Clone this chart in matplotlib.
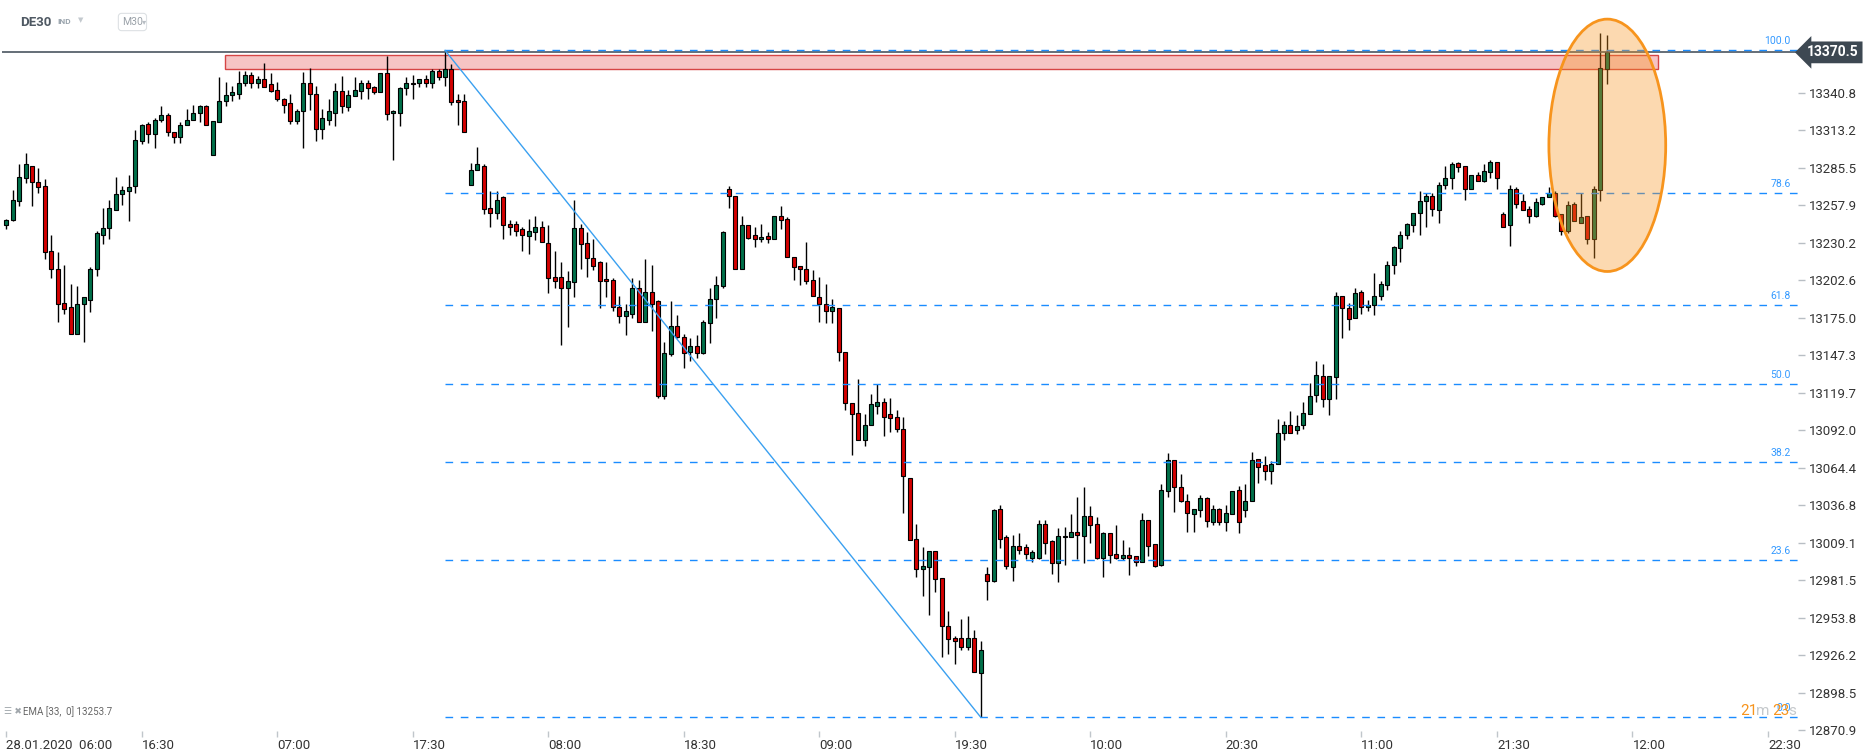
import matplotlib
matplotlib.use("Agg")
import matplotlib.pyplot as plt
from matplotlib.patches import Ellipse, Rectangle
import matplotlib.transforms as mtransforms
import numpy as np

plt.rcParams['font.family'] = ['Roboto', 'DejaVu Sans']

# DE30, M30 candles
opens = [
    13243, 13247, 13261, 13278, 13287, 13275, 13272, 13224, 13211, 13186,
    13183, 13163, 13185, 13188, 13211, 13236, 13241, 13254, 13266, 13268,
    13272, 13305, 13318, 13310, 13321, 13324, 13312, 13308, 13317, 13321,
    13326, 13331, 13295, 13319, 13335, 13339, 13340, 13348, 13354, 13348,
    13351, 13347, 13343, 13336, 13333, 13320, 13327, 13348, 13340, 13314,
    13321, 13326, 13342, 13330, 13338, 13342, 13348, 13345, 13341, 13355,
    13326, 13326, 13344, 13348, 13348, 13351, 13348, 13357, 13352, 13358,
    13335, 13335, 13273, 13284, 13287, 13256, 13252, 13264, 13244, 13244,
    13240, 13235, 13238, 13242, 13230, 13205, 13205, 13197, 13201, 13241,
    13230, 13219, 13216, 13203, 13203, 13183, 13176, 13178, 13197, 13172,
    13194, 13187, 13117, 13148, 13169, 13161, 13150, 13154, 13149, 13171,
    13189, 13198, 13270, 13265, 13211, 13243, 13236, 13233, 13235, 13233,
    13250, 13248, 13220, 13213, 13211, 13203, 13190, 13185, 13180, 13182,
    13150, 13112, 13105, 13085, 13096, 13110, 13113, 13104, 13102, 13093,
    13057, 13012, 12990, 12991, 13003, 12983, 12948, 12939, 12939, 12932,
    12939, 12913, 12986, 12981, 13034, 13013, 12991, 13007, 13006, 12998,
    12998, 13023, 13010, 12994, 13014, 13013, 13017, 13014, 13029, 13023,
    12998, 13016, 13001, 12998, 13000, 12999, 12995, 13026, 13008, 12993,
    13047, 13070, 13050, 13040, 13030, 13033, 13042, 13024, 13034, 13024,
    13030, 13048, 13033, 13040, 13071, 13066, 13062, 13067, 13090, 13096,
    13092, 13096, 13104, 13118, 13132, 13115, 13131, 13191, 13182, 13175,
    13194, 13183, 13184, 13191, 13199, 13214, 13226, 13236, 13243, 13252,
    13261, 13265, 13254, 13273, 13278, 13289, 13287, 13270, 13280, 13276,
    13282, 13290, 13251, 13243, 13270, 13261, 13255, 13250, 13259, 13264,
    13267, 13251, 13239, 13259, 13245, 13250, 13233, 13269, 13358,
]
highs = [
    13248, 13269, 13288, 13296, 13287, 13285, 13277, 13236, 13223, 13214,
    13200, 13198, 13190, 13212, 13239, 13256, 13262, 13279, 13272, 13280,
    13313, 13318, 13319, 13322, 13331, 13326, 13312, 13319, 13329, 13332,
    13332, 13332, 13320, 13352, 13349, 13346, 13357, 13357, 13356, 13353,
    13363, 13355, 13349, 13337, 13340, 13329, 13356, 13359, 13346, 13329,
    13336, 13348, 13353, 13343, 13352, 13350, 13350, 13346, 13355, 13368,
    13328, 13345, 13352, 13354, 13351, 13354, 13358, 13358, 13372, 13362,
    13340, 13340, 13289, 13301, 13288, 13268, 13268, 13265, 13247, 13246,
    13242, 13248, 13250, 13246, 13243, 13224, 13216, 13209, 13262, 13244,
    13238, 13233, 13217, 13216, 13204, 13191, 13185, 13204, 13203, 13218,
    13214, 13188, 13157, 13187, 13177, 13163, 13160, 13162, 13173, 13197,
    13206, 13239, 13272, 13265, 13250, 13243, 13242, 13244, 13238, 13250,
    13257, 13249, 13220, 13213, 13231, 13210, 13205, 13200, 13189, 13182,
    13150, 13112, 13130, 13104, 13119, 13126, 13116, 13116, 13107, 13102,
    13057, 13023, 13006, 13003, 13003, 12983, 12959, 12940, 12953, 12955,
    12945, 12937, 12991, 13034, 13037, 13015, 13015, 13016, 13008, 13004,
    13026, 13026, 13011, 13020, 13021, 13030, 13043, 13050, 13036, 13028,
    13017, 13016, 13022, 13011, 13006, 12999, 13031, 13026, 13008, 13052,
    13075, 13070, 13060, 13045, 13034, 13044, 13043, 13037, 13035, 13037,
    13047, 13051, 13052, 13076, 13071, 13073, 13069, 13100, 13099, 13106,
    13103, 13113, 13127, 13143, 13141, 13132, 13194, 13191, 13186, 13197,
    13195, 13188, 13208, 13202, 13217, 13228, 13239, 13245, 13252, 13268,
    13267, 13267, 13275, 13287, 13290, 13290, 13287, 13280, 13282, 13288,
    13291, 13290, 13253, 13273, 13271, 13266, 13257, 13263, 13264, 13271,
    13268, 13251, 13261, 13260, 13267, 13250, 13272, 13385, 13383,
]
lows = [
    13240, 13246, 13257, 13274, 13257, 13267, 13218, 13204, 13172, 13178,
    13163, 13163, 13157, 13179, 13206, 13229, 13233, 13254, 13258, 13246,
    13267, 13303, 13304, 13300, 13319, 13309, 13304, 13304, 13317, 13321,
    13319, 13317, 13295, 13319, 13331, 13335, 13336, 13346, 13344, 13344,
    13345, 13341, 13335, 13326, 13318, 13318, 13300, 13328, 13305, 13307,
    13317, 13316, 13326, 13327, 13338, 13336, 13336, 13340, 13341, 13321,
    13291, 13316, 13339, 13336, 13345, 13345, 13344, 13350, 13346, 13332,
    13317, 13312, 13273, 13284, 13251, 13242, 13248, 13233, 13236, 13235,
    13224, 13222, 13232, 13231, 13193, 13197, 13155, 13168, 13190, 13211,
    13205, 13210, 13182, 13190, 13180, 13171, 13162, 13175, 13172, 13172,
    13165, 13116, 13115, 13147, 13160, 13138, 13143, 13145, 13148, 13156,
    13175, 13197, 13256, 13211, 13211, 13233, 13227, 13231, 13230, 13233,
    13240, 13220, 13203, 13199, 13200, 13191, 13172, 13171, 13171, 13143,
    13107, 13074, 13085, 13080, 13096, 13104, 13088, 13091, 13091, 13031,
    13011, 12984, 12970, 12956, 12973, 12925, 12927, 12920, 12930, 12930,
    12914, 12880.5, 12967, 12980, 13005, 12990, 12981, 13001, 12997, 12995,
    12997, 13001, 12986, 12980, 12993, 13013, 12997, 12994, 13009, 12997,
    12984, 12994, 12997, 12996, 12985, 12992, 12995, 12999, 12991, 12992,
    13043, 13032, 13039, 13017, 13017, 13028, 13021, 13022, 13022, 13018,
    13030, 13016, 13028, 13040, 13053, 13055, 13052, 13067, 13085, 13090,
    13089, 13093, 13104, 13113, 13109, 13103, 13115, 13160, 13166, 13175,
    13178, 13180, 13177, 13188, 13195, 13207, 13216, 13233, 13238, 13236,
    13242, 13250, 13245, 13270, 13270, 13282, 13262, 13270, 13276, 13275,
    13278, 13270, 13242, 13228, 13256, 13254, 13245, 13249, 13258, 13264,
    13249, 13236, 13237, 13246, 13245, 13229, 13219, 13261, 13347,
]
closes = [
    13247, 13262, 13279, 13288, 13275, 13271, 13223, 13211, 13185, 13181,
    13163, 13185, 13190, 13211, 13237, 13241, 13256, 13266, 13269, 13271,
    13306, 13317, 13310, 13321, 13324, 13312, 13308, 13317, 13321, 13326,
    13331, 13317, 13320, 13335, 13339, 13341, 13348, 13354, 13348, 13351,
    13345, 13342, 13336, 13332, 13320, 13327, 13348, 13340, 13314, 13322,
    13327, 13342, 13331, 13339, 13343, 13348, 13344, 13341, 13355, 13325,
    13327, 13344, 13348, 13347, 13351, 13348, 13357, 13352, 13358, 13334,
    13334, 13312, 13284, 13288, 13255, 13252, 13262, 13243, 13242, 13239,
    13236, 13239, 13242, 13231, 13204, 13202, 13197, 13202, 13241, 13229,
    13219, 13213, 13202, 13202, 13183, 13176, 13180, 13197, 13172, 13194,
    13185, 13117, 13149, 13169, 13161, 13149, 13154, 13149, 13172, 13189,
    13199, 13238, 13265, 13211, 13243, 13234, 13233, 13234, 13233, 13250,
    13247, 13220, 13212, 13211, 13202, 13191, 13185, 13180, 13183, 13150,
    13112, 13104, 13085, 13096, 13111, 13113, 13102, 13101, 13093, 13058,
    13011, 12990, 12992, 13003, 12982, 12948, 12938, 12937, 12932, 12939,
    12914, 12930, 12981, 13033, 13012, 12992, 13007, 13004, 13001, 13002,
    13023, 13009, 12994, 13014, 13013, 13017, 13015, 13029, 13022, 12998,
    13016, 13000, 12998, 13000, 12998, 12995, 13026, 13007, 12992, 13048,
    13070, 13050, 13040, 13031, 13034, 13042, 13025, 13034, 13024, 13031,
    13047, 13024, 13040, 13070, 13065, 13062, 13067, 13090, 13096, 13090,
    13095, 13105, 13117, 13133, 13115, 13132, 13191, 13182, 13174, 13193,
    13183, 13184, 13191, 13200, 13214, 13227, 13236, 13244, 13252, 13261,
    13265, 13255, 13273, 13278, 13288, 13286, 13270, 13280, 13276, 13283,
    13290, 13278, 13242, 13270, 13259, 13254, 13250, 13260, 13264, 13267,
    13250, 13239, 13258, 13246, 13249, 13233, 13270, 13359, 13370.5,
]

time_labels = ["28.01.2020  06:00", "16:30", "07:00", "17:30", "08:00", "18:30",
               "09:00", "19:30", "10:00", "20:30", "11:00", "21:30", "12:00", "22:30"]
label_step = 21

price_ticks = [13340.8, 13313.2, 13285.5, 13257.9, 13230.2, 13202.6, 13175.0,
               13147.3, 13119.7, 13092.0, 13064.4, 13036.8, 13009.1, 12981.5,
               12953.8, 12926.2, 12898.5, 12870.9]
last_price = 13370.5

# fibonacci retracement drawn from the 17:30 high to the 19:30 low
fib_levels = [100.0, 78.6, 61.8, 50.0, 38.2, 23.6, 0.0]
fib_high, fib_low = 13372.0, 12880.5
fib_high_idx, fib_low_idx = 68, 151

# resistance zone
zone_low, zone_high = 13358.0, 13368.5
zone_start, zone_end = 33.9, 256.0

# highlight around the last candles
hl_center = (248.1, 13302.0)
hl_width, hl_height = 18.1, 186.0

W, H = 1866, 756
GREEN = '#00704a'
RED = '#d40000'

fig = plt.figure(figsize=(W / 100, H / 100), dpi=100)
fig.patch.set_facecolor('white')
ax = fig.add_axes([2 / W, 25 / H, 1796 / W, 731 / H])
xmin, xmax = -0.65, 277.65
ax.set_xlim(xmin, xmax)
ax.set_ylim(12870.3, 13409.1)
for s in ax.spines.values():
    s.set_visible(False)

o = np.array(opens, dtype=float)
c = np.array(closes, dtype=float)
hi = np.array(highs, dtype=float)
lo = np.array(lows, dtype=float)
x = np.arange(len(o))
cols = [GREEN if cc >= oo else RED for oo, cc in zip(o, c)]
bottom = np.minimum(o, c)
height = np.maximum(np.abs(c - o), 1.2)

ax.add_patch(Rectangle((zone_start, zone_low), zone_end - zone_start, zone_high - zone_low,
                       facecolor='#f6c4c4', edgecolor='#d64545', lw=1.0, zorder=1))
ax.vlines(x, lo, hi, color='black', lw=1.0, zorder=2)
ax.bar(x, height, width=0.62, bottom=bottom, color=cols, edgecolor='black',
       linewidth=0.8, zorder=3)

ax.axhline(last_price, color='#4a5560', lw=1.2, zorder=4)

fib_prices = [fib_low + lv / 100.0 * (fib_high - fib_low) for lv in fib_levels]
ax.hlines(fib_prices, fib_high_idx, xmax, colors='#1a8cff', lw=1.0,
          linestyles=(0, (5.5, 5.5)), zorder=4)
for lv, p in zip(fib_levels, fib_prices):
    ax.annotate(f"{lv:.1f}", (276.5, p), xytext=(0, 3), textcoords='offset points',
                ha='right', va='bottom', fontsize=7.5, color='#3399ff', zorder=6)
ax.plot([fib_high_idx, fib_low_idx], [fib_high, fib_low], color='#3aa0f0', lw=1.0, zorder=4)

ax.add_patch(Ellipse(hl_center, hl_width, hl_height, facecolor=(0.969, 0.58, 0.114, 0.35),
                     edgecolor='#f7941d', lw=2.0, zorder=5, clip_on=False))

# axes
ax.yaxis.tick_right()
ax.set_yticks(price_ticks)
ax.set_yticklabels([f"{v:.1f}" for v in price_ticks])
ax.tick_params(axis='y', direction='out', length=5, width=1, color='#b8bec4',
               labelcolor='#333333', labelsize=9.5, pad=3)
xt = [i * label_step for i in range(len(time_labels))]
ax.set_xticks(xt)
ax.set_xticklabels(time_labels, ha='left')
ax.tick_params(axis='x', direction='out', length=4, width=1, color='#c0c6cb',
               labelcolor='#333333', labelsize=9.5, pad=2)

# last price tag
tr = mtransforms.blended_transform_factory(ax.transAxes, ax.transData)
ax.text(1.0 + 9 / 1796, last_price, f"{last_price:.1f}", transform=tr, ha='left', va='center',
        fontsize=10, fontweight='bold', color='white', zorder=7,
        bbox=dict(boxstyle='larrow,pad=0.28', fc='#3d4852', ec='none'))

# header
def fy(y):
    return 1 - y / H

fig.text(20 / W, fy(22), "DE30", fontsize=9.5, fontweight='bold', color='#4f5963', va='center')
fig.text(57 / W, fy(22), "IND", fontsize=6, fontweight='bold', color='#9aa4ad', va='center')
fig.text(78 / W, fy(21), "\u25bc", fontsize=5, color='#c3c9ce', va='center')
fig.text(122 / W, fy(22), "M30", fontsize=7.5, color='#9aa1a8', va='center',
         bbox=dict(boxstyle='round,pad=0.35,rounding_size=0.3', fc='white', ec='#dde1e4', lw=0.8))
fig.text(142 / W, fy(22), "\u25be", fontsize=6, color='#b8bec4', va='center')

# indicator legend
fig.text(4 / W, fy(712), "\u2630 \u2716", fontsize=6.5, color='#a0a6ab', va='center')
fig.text(23 / W, fy(712), "EMA [33,  0] 13253.7", fontsize=7, color='#666666', va='center')

# candle countdown
fig.text(1740 / W, fy(711), "21", fontsize=11, color='#f7941d', va='center')
fig.text(1756 / W, fy(711), "m", fontsize=11, color='#c5c9cc', va='center')
fig.text(1772 / W, fy(711), "23", fontsize=11, color='#f7941d', va='center')
fig.text(1788 / W, fy(711), "s", fontsize=11, color='#c5c9cc', va='center')

fig.savefig("out.png", dpi=100, facecolor='white')
